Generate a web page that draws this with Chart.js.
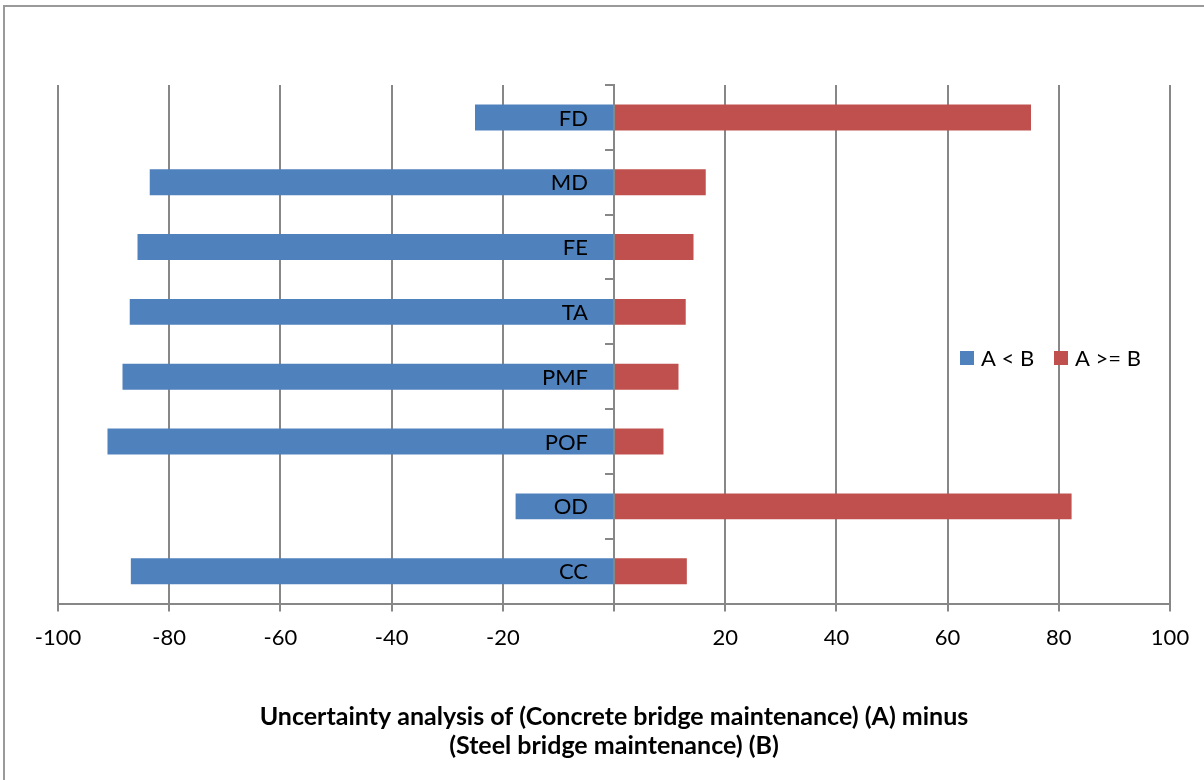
<!DOCTYPE html>
<html>
<head>
<meta charset="utf-8">
<script src="https://cdn.jsdelivr.net/npm/chart.js@4.4.1/dist/chart.umd.min.js"></script>
<style>
  html, body { margin: 0; padding: 0; background: #ffffff; }
  #wrap { position: absolute; left: 0; top: 0; width: 1204px; height: 780px; }
  #frame { position: absolute; left: 3px; top: 5px; width: 1201px; height: 775px;
           border-left: 2px solid #9a9a9a; border-top: 2px solid #9a9a9a; box-sizing: border-box; pointer-events: none; }
  canvas { position: absolute; left: 0; top: 0; }
</style>
</head>
<body>
<div id="wrap">
  <canvas id="c" width="1204" height="780"></canvas>
  <div id="frame"></div>
</div>
<script>
const categories = ['FD', 'MD', 'FE', 'TA', 'PMF', 'POF', 'OD', 'CC'];
const seriesNames = ['A < B', 'A >= B'];
const lessValues = [-25, -83.5, -85.7, -87.1, -88.4, -91.1, -17.7, -86.9];
const greaterValues = [75, 16.5, 14.3, 12.9, 11.6, 8.9, 82.3, 13.1];
const xTicks = [-100, -80, -60, -40, -20, 0, 20, 40, 60, 80, 100];
const titleLines = ['Uncertainty analysis of (Concrete bridge maintenance) (A) minus', '(Steel bridge maintenance) (B)'];

const FONT = "Lato, 'Open Sans', 'Liberation Sans', sans-serif";
const GRID = '#878787';
const colors = ['#4F81BD', '#C0504D'];

// category labels drawn just left of the zero axis, above the bars
const categoryLabels = {
  id: 'categoryLabels',
  afterDatasetsDraw(chart) {
    const ctx = chart.ctx;
    const xs = chart.scales.x, ys = chart.scales.y;
    const x0 = xs.getPixelForValue(0);
    ctx.save();
    ctx.font = '22px ' + FONT;
    ctx.fillStyle = '#000000';
    ctx.textAlign = 'right';
    ctx.textBaseline = 'middle';
    chart.data.labels.forEach((lab, i) => {
      ctx.fillText(lab, x0 - 26, ys.getPixelForValue(i) + 1);
    });
    ctx.restore();
  }
};

const customLegend = {
  id: 'customLegend',
  afterDraw(chart) {
    const ctx = chart.ctx;
    const y = chart.chartArea.top + 273;
    const starts = [960, 1054];
    ctx.save();
    ctx.font = '22px ' + FONT;
    ctx.textBaseline = 'middle';
    ctx.textAlign = 'left';
    chart.data.datasets.forEach((ds, i) => {
      const x = starts[i];
      ctx.fillStyle = ds.backgroundColor;
      ctx.fillRect(x, y - 7, 14, 14);
      ctx.fillStyle = '#000000';
      ctx.fillText(ds.label, x + 21, y + 1);
    });
    ctx.restore();
  }
};

new Chart(document.getElementById('c'), {
  type: 'bar',
  data: {
    labels: categories,
    datasets: [
      { label: seriesNames[0], data: lessValues, backgroundColor: colors[0], borderWidth: 0, barPercentage: 0.8, categoryPercentage: 0.5 },
      { label: seriesNames[1], data: greaterValues, backgroundColor: colors[1], borderWidth: 0, barPercentage: 0.8, categoryPercentage: 0.5 }
    ]
  },
  options: {
    indexAxis: 'y',
    responsive: false,
    animation: false,
    devicePixelRatio: 1,
    layout: { padding: { left: 58, right: 34, top: 85, bottom: 16 } },
    plugins: { legend: { display: false }, tooltip: { enabled: false }, title: { display: false } },
    scales: {
      x: {
        type: 'linear',
        min: -100, max: 100,
        afterBuildTicks(scale) { scale.ticks = xTicks.map(v => ({ value: v })); },
        grid: { color: GRID, lineWidth: 2, drawTicks: true, tickLength: 8, tickColor: GRID },
        border: { display: true, color: GRID, width: 2 },
        ticks: {
          color: '#000000', padding: 13, maxRotation: 0, autoSkip: false,
          font: { family: FONT, size: 22 },
          callback: (v) => (v === 0 ? '' : String(v))
        },
        title: {
          display: true, text: titleLines, color: '#000000',
          font: { family: FONT, size: 25, weight: 'bold', lineHeight: 1.16 },
          padding: { top: 38, bottom: 4 }
        }
      },
      y: {
        type: 'category',
        stacked: true,
        position: { x: 0 },
        grid: { display: true, drawOnChartArea: false, drawTicks: true, tickLength: 8, color: GRID, lineWidth: 2, offset: true },
        border: { display: true, color: GRID, width: 2, z: 1 },
        ticks: { display: false }
      }
    }
  },
  plugins: [categoryLabels, customLegend]
});
</script>
</body>
</html>
